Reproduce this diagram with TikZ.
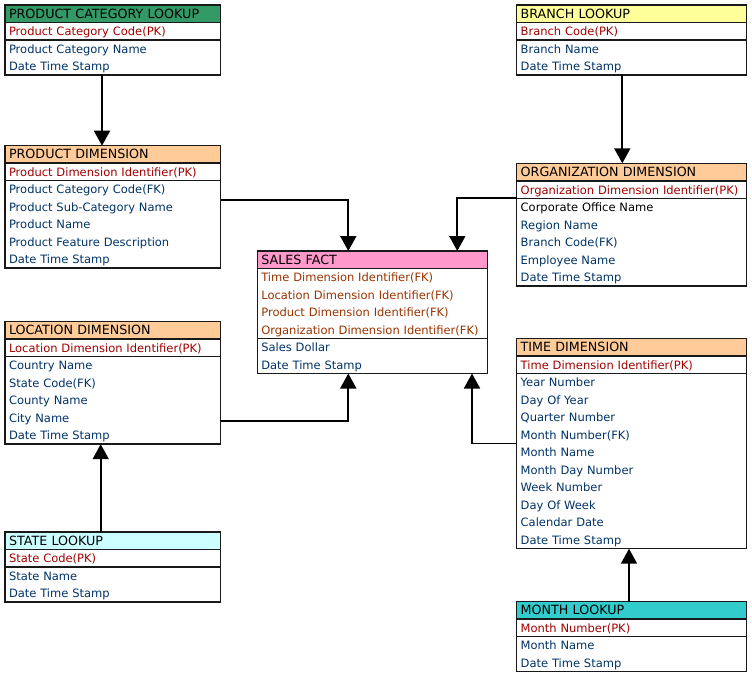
\documentclass[tikz,border=0pt]{standalone}
\usepackage{fontspec}
\setmainfont{DejaVu Sans}
\usetikzlibrary{positioning,arrows.meta}
\definecolor{hdgreen}{RGB}{51,153,102}
\definecolor{hdorange}{RGB}{255,204,153}
\definecolor{hdyellow}{RGB}{255,255,153}
\definecolor{hdpink}{RGB}{255,153,204}
\definecolor{hdcyan}{RGB}{204,255,255}
\definecolor{hdteal}{RGB}{51,204,204}
\definecolor{pkred}{RGB}{160,0,0}
\definecolor{fkbrown}{RGB}{153,51,0}
\definecolor{atblue}{RGB}{0,51,102}
\newcommand{\rs}{\rule[-4.3bp]{0pt}{17.5bp}}
\begin{document}
\begin{tikzpicture}[x=1bp,y=-1bp,anchor=north west,
  tbl/.style={draw=black!90,line width=1.5bp,outer sep=0pt,inner ysep=0pt,inner xsep=4bp,align=left,font=\fontsize{11.5bp}{17.5bp}\selectfont},
  narrow/.style={text width=207.7bp}, wide/.style={text width=222bp},
  hd/.style={tbl,fill=#1,text=black,font=\fontsize{12.7bp}{17.5bp}\selectfont},
  pk/.style={tbl,fill=white,text=pkred,below=0pt of #1},
  attr/.style={tbl,fill=white,text=atblue,below=0pt of #1},
  link/.style={line width=1.8bp,-{Triangle[width=16bp,length=15bp]}}]
\path[fill=white,use as bounding box] (0,0) rectangle (752,677);
\node[hd=hdgreen,narrow] (pclh) at (5,5) {\rs PRODUCT CATEGORY LOOKUP};
\node[pk=pclh,narrow] (pclk) {\rs Product Category Code(PK)};
\node[attr=pclk,narrow] (pcla) {\rs Product Category Name\\Date Time Stamp\rs};
\node[hd=hdorange,narrow] (pdh) at (5,145.7) {\rs PRODUCT DIMENSION};
\node[pk=pdh,narrow] (pdk) {\rs Product Dimension Identifier(PK)};
\node[attr=pdk,narrow] (pda) {\rs Product Category Code(FK)\\Product Sub-Category Name\\Product Name\\Product Feature Description\\Date Time Stamp\rs};
\node[hd=hdyellow,wide] (blh) at (516.7,5) {\rs BRANCH LOOKUP};
\node[pk=blh,wide] (blk) {\rs Branch Code(PK)};
\node[attr=blk,wide] (bla) {\rs Branch Name\\Date Time Stamp\rs};
\node[hd=hdorange,wide] (odh) at (516.7,163.3) {\rs ORGANIZATION DIMENSION};
\node[pk=odh,wide] (odk) {\rs Organization Dimension Identifier(PK)};
\node[attr=odk,wide] (oda) {\rs\textcolor{black}{Corporate Office Name}\\Region Name\\Branch Code(FK)\\Employee Name\\Date Time Stamp\rs};
\node[hd=hdpink,wide] (sfh) at (257.3,251) {\rs SALES FACT};
\node[pk=sfh,wide,text=fkbrown] (sfk) {\rs Time Dimension Identifier(FK)\\Location Dimension Identifier(FK)\\Product Dimension Identifier(FK)\\Organization Dimension Identifier(FK)\rs};
\node[attr=sfk,wide] (sfa) {\rs Sales Dollar\\Date Time Stamp\rs};
\node[hd=hdorange,narrow] (ldh) at (5,321.7) {\rs LOCATION DIMENSION};
\node[pk=ldh,narrow] (ldk) {\rs Location Dimension Identifier(PK)};
\node[attr=ldk,narrow] (lda) {\rs Country Name\\State Code(FK)\\County Name\\City Name\\Date Time Stamp\rs};
\node[hd=hdcyan,narrow] (slh) at (5,532) {\rs STATE LOOKUP};
\node[pk=slh,narrow] (slk) {\rs State Code(PK)};
\node[attr=slk,narrow] (sla) {\rs State Name\\Date Time Stamp\rs};
\node[hd=hdorange,wide] (tdh) at (516.7,338.7) {\rs TIME DIMENSION};
\node[pk=tdh,wide] (tdk) {\rs Time Dimension Identifier(PK)};
\node[attr=tdk,wide] (tda) {\rs Year Number\\Day Of Year\\Quarter Number\\Month Number(FK)\\Month Name\\Month Day Number\\Week Number\\Day Of Week\\Calendar Date\\Date Time Stamp\rs};
\node[hd=hdteal,wide] (mlh) at (516.7,601.7) {\rs MONTH LOOKUP};
\node[pk=mlh,wide] (mlk) {\rs Month Number(PK)};
\node[attr=mlk,wide] (mla) {\rs Month Name\\Date Time Stamp\rs};
\draw[link] ([xshift=97bp]pcla.south west) -- ([xshift=97bp]pdh.north west);
\draw[link] ([xshift=105.6bp]bla.south west) -- ([xshift=105.6bp]odh.north west);
\draw[link] ([yshift=-19.3bp]pda.north east) -| ([xshift=91bp]sfh.north west);
\draw[link] (odk.south west) -| ([xshift=200bp]sfh.north west);
\draw[link] ([yshift=-64.3bp]lda.north east) -| ([xshift=91bp]sfa.south west);
\draw[link] ([yshift=-69.8bp]tda.north west) -| ([xshift=214.7bp]sfa.south west);
\draw[link] ([xshift=95.7bp]slh.north west) -- ([xshift=95.7bp]lda.south west);
\draw[link] ([xshift=112.3bp]mlh.north west) -- ([xshift=112.3bp]tda.south west);
\end{tikzpicture}
\end{document}
